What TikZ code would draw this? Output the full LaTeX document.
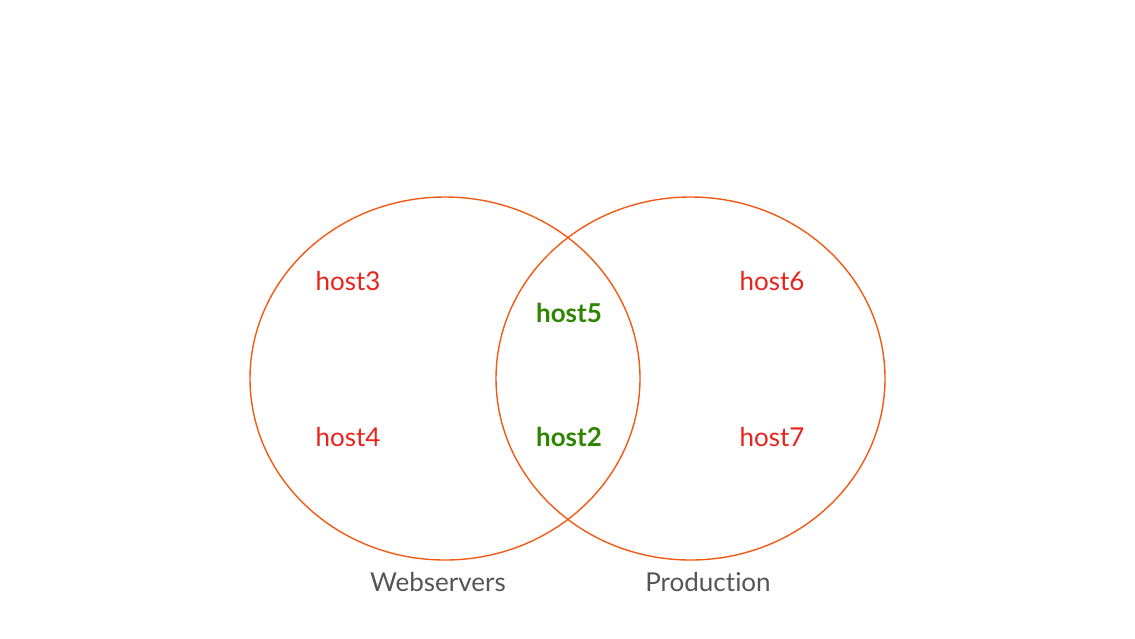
\documentclass[tikz,border=0pt]{standalone}
\usepackage{fontspec}
\setmainfont{Lato}[Ligatures={NoCommon,NoRare,NoContextual}]
\definecolor{ring}{HTML}{F05A14}
\definecolor{hred}{HTML}{E8231C}
\definecolor{hgreen}{HTML}{2E8500}
\definecolor{lgray}{HTML}{555555}
\begin{document}
\begin{tikzpicture}[x=1pt,y=-1pt,
  host/.style={text=hred,font=\fontsize{26}{30}\selectfont,inner sep=0pt,anchor=center},
  shared/.style={text=hgreen,font=\fontsize{26}{30}\selectfont\bfseries,inner sep=0pt,anchor=center},
  setlabel/.style={text=lgray,font=\fontsize{26}{30}\selectfont,inner sep=0pt,anchor=center},
  setring/.style={draw=ring,line width=1.4pt}]
\useasboundingbox (0,0) rectangle (1135,638);
\draw[setring] (445,378.5) ellipse [x radius=195, y radius=181.5];
\draw[setring] (690.5,378.5) ellipse [x radius=194.5, y radius=181.5];
\node[host] (h3) at (348,281) {host3};
\node[host] (h4) at (348,437) {host4};
\node[shared] (h5) at (569,313) {host5};
\node[shared] (h2) at (569,437) {host2};
\node[host] (h6) at (772,281) {host6};
\node[host] (h7) at (772,437) {host7};
\node[setlabel] (web) at (438,582) {Webservers};
\node[setlabel] (prod) at (708,582) {Production};
\end{tikzpicture}
\end{document}
